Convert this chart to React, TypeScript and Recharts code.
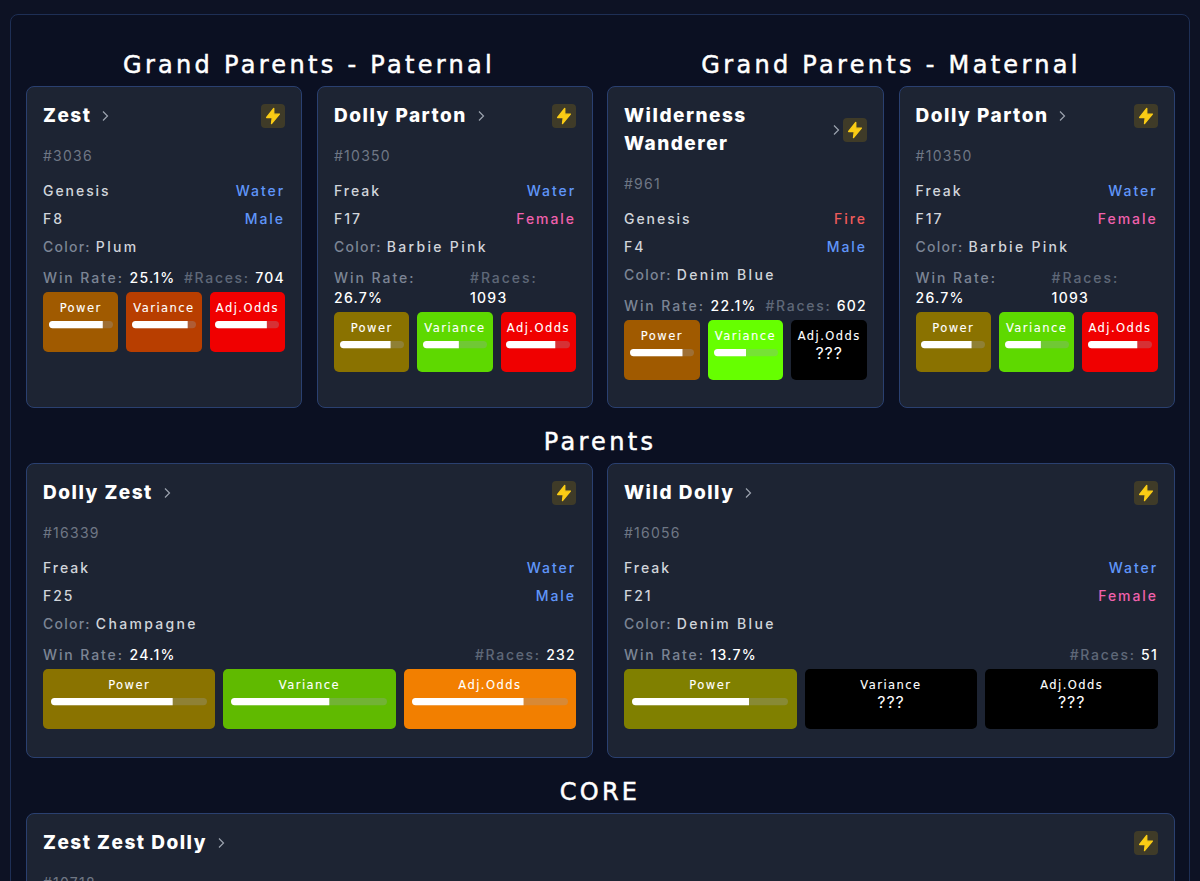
import React from 'react';
import { BarChart, Bar, XAxis, YAxis } from 'recharts';

// ---- data ----
const names = ['Zest', 'Dolly Parton', 'Wilderness Wanderer', 'Dolly Parton', 'Dolly Zest', 'Wild Dolly', 'Zest Zest Dolly'];
const ids = ['#3036', '#10350', '#961', '#10350', '#16339', '#16056', '#10718'];
const kinds = ['Genesis', 'Freak', 'Genesis', 'Freak', 'Freak', 'Freak', ''];
const elements = ['Water', 'Water', 'Fire', 'Water', 'Water', 'Water', ''];
const generations = ['F8', 'F17', 'F4', 'F17', 'F25', 'F21', ''];
const genders = ['Male', 'Female', 'Male', 'Female', 'Male', 'Female', ''];
const coats = ['Plum', 'Barbie Pink', 'Denim Blue', 'Barbie Pink', 'Champagne', 'Denim Blue', ''];
const winRates = ['25.1%', '26.7%', '22.1%', '26.7%', '24.1%', '13.7%', ''];
const raceCounts = ['704', '1093', '602', '1093', '232', '51', ''];
const statLabels = ['Power', 'Variance', 'Adj.Odds'];
const powerValues = [84, 79, 82, 79, 78, 75];
const varianceValues: (number | null)[] = [87, 56, 50, 56, 63, null];
const adjOddsValues: (number | null)[] = [81, 77, null, 77, 71.5, null];
const sectionTitles = ['Grand Parents - Paternal', 'Grand Parents - Maternal', 'Parents', 'CORE'];

// ---- styles ----
const tileColors = [
  ['#a05a00', '#b83e00', '#f00000'],
  ['#8a7200', '#5ed900', '#f00000'],
  ['#a05a00', '#66ff00', '#000000'],
  ['#8a7200', '#5ed900', '#f00000'],
  ['#8a7300', '#60ba00', '#f27f00'],
  ['#808000', '#000000', '#000000'],
];
const cardBoxes = [
  { left: 26, top: 86, width: 276, height: 322 },
  { left: 317, top: 86, width: 276, height: 322 },
  { left: 607, top: 86, width: 277, height: 322 },
  { left: 898.6, top: 86, width: 276, height: 322 },
  { left: 26, top: 463, width: 567, height: 295 },
  { left: 607, top: 463, width: 568, height: 295 },
  { left: 26, top: 813, width: 1149, height: 200 },
];
const titleBoxes = [
  { center: 309, y: 65 },
  { center: 891, y: 65 },
  { center: 600, y: 442 },
  { center: 600, y: 792 },
];
const wrappedWin = [false, true, false, true, false, false, false];
const body = 'Inter, "Open Sans", sans-serif';
const techno = '"DejaVu Sans", sans-serif';

function StatBar({ value, width }: { value: number; width: number }) {
  return (
    <BarChart
      width={width}
      height={8}
      data={[{ name: 'stat', value }]}
      layout="vertical"
      margin={{ top: 0, right: 0, bottom: 0, left: 0 }}
      style={{ display: 'block' }}
    >
      <XAxis type="number" domain={[0, 100]} hide />
      <YAxis type="category" dataKey="name" hide />
      <Bar
        dataKey="value"
        fill="#ffffff"
        barSize={8}
        radius={[4, 0, 0, 4]}
        background={{ fill: 'rgba(156,163,175,0.3)', radius: 4 } as any}
        isAnimationActive={false}
      />
    </BarChart>
  );
}

function StatTile({ label, value, color, wide }: { label: string; value: number | null; color: string; wide: boolean }) {
  const barWidth = wide ? 156 : 64;
  return (
    <div style={{ flex: 1, height: 60, borderRadius: 5, background: color, display: 'flex', flexDirection: 'column', alignItems: 'center', paddingTop: 8, boxSizing: 'border-box' }}>
      <div style={{ fontFamily: techno, fontSize: 11.5, lineHeight: '16px', letterSpacing: 1.45, color: '#fff', whiteSpace: 'nowrap', WebkitTextStroke: '0.1px #fff' }}>{label}</div>
      {value === null ? (
        <div style={{ fontFamily: body, fontSize: 16, lineHeight: '18px', letterSpacing: 1, color: '#fff', marginTop: 0 }}>???</div>
      ) : (
        <div style={{ marginTop: 5 }}>
          <StatBar value={value} width={barWidth} />
        </div>
      )}
    </div>
  );
}

function Bolt() {
  return (
    <div style={{ width: 24, height: 24, borderRadius: 4, background: '#3f3b28', display: 'flex', alignItems: 'center', justifyContent: 'center', flex: 'none' }}>
      <svg width="18" height="18" viewBox="0 0 24 24" style={{ display: 'block' }}>
        <path d="M13 2 L3.5 14 H11 L10 22 L20.5 9.5 H13 Z" fill="#facc15" stroke="#facc15" strokeWidth="1.8" strokeLinejoin="round" />
      </svg>
    </div>
  );
}

function Chevron() {
  return (
    <svg width="14" height="14" viewBox="0 0 14 14" style={{ display: 'block', flex: 'none' }}>
      <path d="M5 2.5 L9.5 7 L5 11.5" fill="none" stroke="#9ca3af" strokeWidth="1.2" />
    </svg>
  );
}

const line = { fontFamily: body, fontWeight: 500, fontSize: 14, lineHeight: '28px', letterSpacing: 1.95, whiteSpace: 'nowrap' } as React.CSSProperties;
const elementColor = (e: string) => (e === 'Fire' ? '#ef5b5b' : '#6096fa');
const genderColor = (g: string) => (g === 'Female' ? '#f061ad' : '#6096fa');

function Card({ i }: { i: number }) {
  const box = cardBoxes[i];
  const wide = i >= 4;
  const twoLine = names[i].length > 16;
  const stats = [powerValues[i], varianceValues[i], adjOddsValues[i]];
  const nameParts = twoLine ? names[i].split(' ') : [names[i]];
  return (
    <div style={{ position: 'absolute', left: box.left, top: box.top, width: box.width, height: box.height, boxSizing: 'border-box', padding: '16px 16px 16px', background: '#1d2433', border: '1px solid #2a4070', borderRadius: 8 }}>
      <div style={{ display: 'flex', alignItems: 'center', marginTop: -0.6 }}>
        <div style={{ fontFamily: body, fontWeight: 800, fontSize: 19, lineHeight: '28px', letterSpacing: 1.5, color: '#fff', flex: twoLine ? 1 : 'none' }}>
          {nameParts.map((p, k) => (<div key={k}>{p}</div>))}
        </div>
        <div style={{ marginLeft: twoLine ? 0 : 7 }}><Chevron /></div>
        {!twoLine && <div style={{ flex: 1 }} />}
        <Bolt />
      </div>
      <div style={{ ...line, fontWeight: 400, letterSpacing: 1.25, color: '#6f7785', lineHeight: '20px', marginTop: 16 }}>{ids[i]}</div>
      {i < 6 && (
        <>
          <div style={{ marginTop: 11, display: 'flex', justifyContent: 'space-between' }}>
            <span style={{ ...line, color: '#d1d5db' }}>{kinds[i]}</span>
            <span style={{ ...line, color: elementColor(elements[i]) }}>{elements[i]}</span>
          </div>
          <div style={{ display: 'flex', justifyContent: 'space-between' }}>
            <span style={{ ...line, color: '#d1d5db' }}>{generations[i]}</span>
            <span style={{ ...line, color: genderColor(genders[i]) }}>{genders[i]}</span>
          </div>
          <div style={line}>
            <span style={{ color: '#7c8595', letterSpacing: 1.25 }}>Color: </span>
            <span style={{ color: '#d1d5db', letterSpacing: 2.3 }}>{coats[i]}</span>
          </div>
          {wrappedWin[i] ? (
            <div style={{ ...line, lineHeight: '20px', marginTop: 7, display: 'flex', whiteSpace: 'normal' }}>
              <div style={{ width: 136 }}>
                <div style={{ color: '#7c8595' }}>Win Rate:</div>
                <div style={{ color: '#fff', letterSpacing: 1.25 }}>{winRates[i]}</div>
              </div>
              <div>
                <div style={{ color: '#5f6878' }}>#Races:</div>
                <div style={{ color: '#fff', letterSpacing: 1.25 }}>{raceCounts[i]}</div>
              </div>
            </div>
          ) : (
            <div style={{ ...line, lineHeight: '20px', marginTop: 7, display: 'flex', justifyContent: 'space-between' }}>
              <span>
                <span style={{ color: '#7c8595', letterSpacing: 1.9 }}>Win Rate: </span>
                <span style={{ color: '#fff', letterSpacing: 1.25 }}>{winRates[i]}</span>
              </span>
              <span>
                <span style={{ color: '#5f6878', letterSpacing: 1.7 }}>#Races: </span>
                <span style={{ color: '#fff', letterSpacing: 1.25 }}>{raceCounts[i]}</span>
              </span>
            </div>
          )}
          <div style={{ display: 'flex', gap: 8, marginTop: 3.6 }}>
            {statLabels.map((label, k) => (
              <StatTile key={label} label={label} value={stats[k]} color={tileColors[i][k]} wide={wide} />
            ))}
          </div>
        </>
      )}
    </div>
  );
}

export default function App() {
  return (
    <div style={{ position: 'fixed', left: 0, top: 0, width: 1200, height: 881, overflow: 'hidden', background: '#0d1224' }}>
      <div style={{ position: 'absolute', left: 10, top: 14, width: 1180, height: 1000, boxSizing: 'border-box', background: '#0b1022', border: '1px solid #1e2f55', borderRadius: 8 }} />
      {sectionTitles.map((t, i) => (
        <div key={i} style={{ position: 'absolute', left: titleBoxes[i].center - 300, top: titleBoxes[i].y - 16, width: 600, textAlign: 'center', fontFamily: techno, fontSize: 24, lineHeight: '32px', letterSpacing: 3.3, color: '#fff', WebkitTextStroke: '0.5px #fff' }}>{t}</div>
      ))}
      {names.map((_, i) => (<Card key={i} i={i} />))}
    </div>
  );
}
